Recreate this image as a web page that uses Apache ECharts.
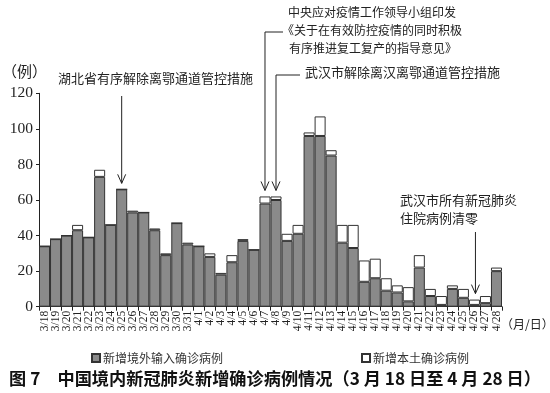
<!DOCTYPE html>
<html>
<head>
<meta charset="utf-8">
<script src="https://cdn.jsdelivr.net/npm/echarts@6/dist/echarts.min.js"></script>
<style>html,body{margin:0;padding:0;background:#fff}#c{width:550px;height:393px}</style>
</head>
<body>
<div id="c"></div>
<script>
var dates = ['3/18','3/19','3/20','3/21','3/22','3/23','3/24','3/25','3/26','3/27','3/28','3/29','3/30','3/31',
  '4/1','4/2','4/3','4/4','4/5','4/6','4/7','4/8','4/9','4/10','4/11','4/12','4/13','4/14','4/15','4/16','4/17',
  '4/18','4/19','4/20','4/21','4/22','4/23','4/24','4/25','4/26','4/27','4/28'];
var imported = [34,38,40,43,39,73,46,66,53,53,43,29,47,35,34,28,18,25,37,32,58,60,37,41,96,96,85,36,33,14,16,9,8,3,22,6,1,10,5,1,2,20];
var local = [0,0,0,3,0,4,0,0,1,0,1,1,0,1,0,2,1,4,1,0,4,2,4,5,2,11,3,10,13,12,11,7,4,8,7,4,5,2,5,3,4,2];
var yTicks = [0,20,40,60,80,100,120];
var seriesNames = ['新增境外输入确诊病例','新增本土确诊病例'];
var annotations = [
  {date:'3/25', lines:['湖北省有序解除离鄂通道管控措施']},
  {date:'4/7', lines:['中央应对疫情工作领导小组印发','《关于在有效防控疫情的同时积极','有序推进复工复产的指导意见》']},
  {date:'4/8', lines:['武汉市解除离汉离鄂通道管控措施']},
  {date:'4/26', lines:['武汉市所有新冠肺炎','住院病例清零']}
];
var titleText = '图 7　中国境内新冠肺炎新增确诊病例情况（3 月 18 日至 4 月 28 日）';

var CJK = '"Noto Sans CJK SC", sans-serif';
var SERIF = '"Liberation Serif", "DejaVu Serif", serif';
var chart = echarts.init(document.getElementById('c'), null, {renderer:'canvas'});
var option = {
  animation: false,
  backgroundColor: '#fff',
  grid: {left: 39, right: 48, top: 93.3, bottom: 86.3},
  title: {
    text: titleText, left: 'center', bottom: 1,
    textStyle: {fontFamily: CJK, fontSize: 17.2, fontWeight: 'bold', color: '#111'}
  },
  legend: {
    left: 86, top: 347, itemWidth: 8, itemHeight: 8, itemGap: 138, icon: 'rect',
    textStyle: {fontFamily: CJK, fontSize: 12, color: '#333', padding:[0,0,0,-2]},
    data: seriesNames
  },
  xAxis: {
    type: 'category', data: dates,
    axisLine: {lineStyle: {color: '#222', width: 1}},
    axisTick: {show: true, length: 4, lineStyle: {color: '#222'}},
    axisLabel: {rotate: 90, fontSize: 11.5, fontFamily: SERIF, color: '#222', margin: 4, interval: 0}
  },
  yAxis: {
    type: 'value', min: 0, max: 120, interval: 20,
    axisLine: {show: true, lineStyle: {color: '#222'}},
    axisTick: {show: true, length: 3, lineStyle: {color: '#222'}},
    splitLine: {show: false},
    axisLabel: {fontSize: 15.5, fontFamily: SERIF, color: '#222', margin: 6}
  },
  series: [
    {name: seriesNames[0], type: 'bar', stack: 'a', data: imported, barCategoryGap: '0%',
     itemStyle: {color: '#8a8a8a', borderColor: '#333', borderWidth: 1}},
    {name: seriesNames[1], type: 'bar', stack: 'a', data: local, barCategoryGap: '0%',
     itemStyle: {color: '#ffffff', borderColor: '#333', borderWidth: 1}}
  ]
};
chart.setOption(option);

function px(date, val){ return chart.convertToPixel({seriesIndex:0}, [dates.indexOf(date), val]); }
function total(date){ var i = dates.indexOf(date); return imported[i] + local[i]; }
function arrowHead(x, y){
  return {type:'polyline', shape:{points:[[x-4,y-9],[x,y],[x+4,y-9]]}, style:{stroke:'#222', lineWidth:1, fill:null}};
}
var g = [];
var txtStyle = function(text, x, y, size){
  return {type:'text', left: x, top: y, style:{text:text, font: size+'px '+CJK, fill:'#222'}};
};
g.push(txtStyle('（例）', 2, 64, 15));
g.push(txtStyle('（月/日）', 501, 318, 12));

var a = annotations[0], p = px(a.date, total(a.date));
g.push(txtStyle(a.lines[0], 58, 72, 13));
g.push({type:'line', shape:{x1:p[0], y1:96, x2:p[0], y2:p[1]-6}, style:{stroke:'#222', lineWidth:1}});
g.push(arrowHead(p[0], p[1]-6));
a = annotations[1]; p = px(a.date, total(a.date));
g.push(txtStyle(a.lines[0], 288, 6, 12));
g.push(txtStyle(a.lines[1], 282, 24, 12));
g.push(txtStyle(a.lines[2], 289, 42, 12));
g.push({type:'polyline', shape:{points:[[283,32],[p[0],32],[p[0],p[1]-6]]}, style:{stroke:'#222', lineWidth:1, fill:null}});
g.push(arrowHead(p[0], p[1]-6));
a = annotations[2]; p = px(a.date, total(a.date));
g.push(txtStyle(a.lines[0], 305, 66, 13));
g.push({type:'polyline', shape:{points:[[300,75],[p[0],75],[p[0],p[1]-6]]}, style:{stroke:'#222', lineWidth:1, fill:null}});
g.push(arrowHead(p[0], p[1]-6));
a = annotations[3]; p = px(a.date, total(a.date));
g.push(txtStyle(a.lines[0], 400, 194, 13));
g.push(txtStyle(a.lines[1], 400, 212, 13));
g.push({type:'line', shape:{x1:p[0]+1, y1:232, x2:p[0]+1, y2:p[1]-6}, style:{stroke:'#222', lineWidth:1}});
g.push(arrowHead(p[0]+1, p[1]-6));

chart.setOption({graphic: g});
</script>
</body>
</html>
